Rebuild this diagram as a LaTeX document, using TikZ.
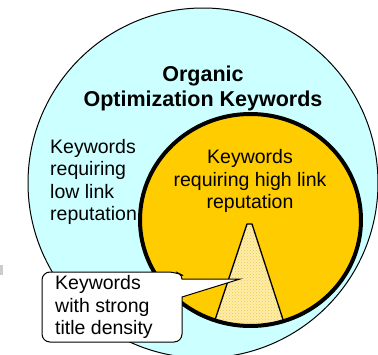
\documentclass[tikz,border=0pt]{standalone}
\usepackage{fontspec}
\setmainfont{Liberation Sans}
\usetikzlibrary{patterns}
\definecolor{outerfill}{RGB}{204,255,255}
\definecolor{innerfill}{RGB}{255,204,0}
\definecolor{conefill}{RGB}{255,238,170}
\definecolor{conedots}{RGB}{240,200,70}
\tikzset{
  lbl/.style={inner sep=0pt, font=\fontsize{19.5}{22.4}\selectfont},
  ttl/.style={inner sep=0pt, font=\fontsize{21.5}{25}\selectfont\bfseries, align=center},
}
\begin{document}
\begin{tikzpicture}[x=1pt,y=-1pt]
\useasboundingbox (0,0) rectangle (378,354);
\clip (0,0) rectangle (378,354);
% outer circle
\draw[fill=outerfill, line width=1pt] (203,183) circle (175);
% inner ellipse fill
\fill[innerfill] (250.5,220) ellipse [x radius=110.5, y radius=106];
% cone clipped to ellipse
\begin{scope}
  \clip (250.5,220) ellipse [x radius=110.5, y radius=106];
  \path[fill=conefill] (247,224) -- (252,224) -- (288,335) -- (210,335) -- cycle;
  \path[pattern=crosshatch dots, pattern color=conedots] (247,224) -- (252,224) -- (288,335) -- (210,335) -- cycle;
  \draw[line width=1.3pt, line join=round] (210,335) -- (247,224) -- (252,224) -- (288,335);
\end{scope}
% inner ellipse border
\draw[line width=4pt] (250.5,220) ellipse [x radius=110.5, y radius=106];
% small gray mark at left edge
\fill[gray!40] (0,265) rectangle (3,275);
% callout
\draw[fill=white, line width=1pt, rounded corners=8]
  (42,290) -- (42,272) -- (176,272) [rounded corners=4] -- (182,275) [sharp corners] -- (182,279)
  -- (240,279) -- (182,297) [rounded corners=8] -- (182,342) -- (42,342) -- cycle;
% texts
\node[ttl] (title) at (203,88) {Organic\\Optimization Keywords};
\node[lbl, anchor=west, align=left] (low) at (50,182) {Keywords\\requiring\\low link\\reputation};
\node[lbl, align=center] (high) at (250,181) {Keywords\\requiring high link\\reputation};
\node[lbl, anchor=west, align=left] (density) at (55,307) {Keywords\\with strong\\title density};
\end{tikzpicture}
\end{document}
